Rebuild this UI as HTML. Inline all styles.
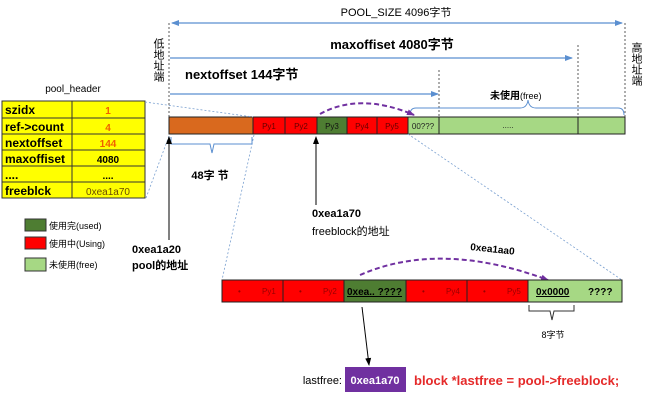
<!DOCTYPE html><html><head><meta charset="utf-8"><style>body{margin:0;background:#fff}svg{display:block}text{font-family:"Liberation Sans","Noto Sans CJK SC",sans-serif}</style></head><body>
<svg width="650" height="406" viewBox="0 0 650 406" xmlns="http://www.w3.org/2000/svg">
<defs>
<marker id="ab" markerUnits="userSpaceOnUse" markerWidth="8" markerHeight="8" refX="7" refY="4" orient="auto-start-reverse"><path d="M0,1 L8,4 L0,7z" fill="#5b8fd0"/></marker>
<marker id="ak" markerUnits="userSpaceOnUse" markerWidth="8" markerHeight="8" refX="7" refY="4" orient="auto"><path d="M0,1 L8,4 L0,7z" fill="#000"/></marker>
<marker id="ap" markerUnits="userSpaceOnUse" markerWidth="9" markerHeight="9" refX="7" refY="4" orient="auto"><path d="M0,1 L8,4 L0,7z" fill="#7030a0"/></marker>
</defs>
<line x1="172" y1="23" x2="622" y2="23" stroke="#5b8fd0" stroke-width="1.2" marker-start="url(#ab)" marker-end="url(#ab)"/>
<text x="396" y="16" font-size="11" text-anchor="middle">POOL_SIZE 4096字节</text>
<line x1="170" y1="58" x2="572" y2="58" stroke="#5b8fd0" stroke-width="1.2" marker-end="url(#ab)"/>
<text x="392" y="49" font-size="13" font-weight="bold" text-anchor="middle">maxoffiset 4080字节</text>
<line x1="170" y1="94" x2="438" y2="94" stroke="#5b8fd0" stroke-width="1.2" marker-end="url(#ab)"/>
<text x="185" y="79" font-size="13" font-weight="bold">nextoffset 144字节</text>
<g stroke="#333" stroke-width="0.8" stroke-dasharray="2,2">
<line x1="169" y1="23" x2="169" y2="117"/><line x1="439" y1="70" x2="439" y2="117"/><line x1="578" y1="45" x2="578" y2="117"/><line x1="625" y1="23" x2="625" y2="117"/></g>
<text font-size="11" writing-mode="tb" x="158" y="38">低地址端</text>
<text font-size="11" writing-mode="tb" x="636" y="42">高地址端</text>
<path d="M410,115 Q410,108 416,108 L520,108 Q527,108 528,100 Q529,108 536,108 L618,108 Q624,108 624,115" fill="none" stroke="#5b8fd0"/>
<text x="490" y="99" font-size="10" font-weight="bold">未使用<tspan font-weight="normal" font-size="9">(free)</tspan></text>
<path d="M320,114 Q360,92 414,115" fill="none" stroke="#7030a0" stroke-width="2" stroke-dasharray="5,3" marker-end="url(#ap)"/>
<g stroke="#222" stroke-width="1">
<rect x="169" y="117" width="84" height="17" fill="#d9691e"/>
<rect x="253" y="117" width="32" height="17" fill="#f00"/>
<rect x="285" y="117" width="32" height="17" fill="#f00"/>
<rect x="317" y="117" width="30" height="17" fill="#4e7d32"/>
<rect x="347" y="117" width="30" height="17" fill="#f00"/>
<rect x="377" y="117" width="31" height="17" fill="#f00"/>
<rect x="408" y="117" width="31" height="17" fill="#a6d884"/>
<rect x="439" y="117" width="139" height="17" fill="#a6d884"/>
<rect x="578" y="117" width="47" height="17" fill="#a6d884"/></g>
<g font-size="8" fill="#600" text-anchor="middle">
<text x="269" y="129" font-family="Liberation Serif">Py1</text><text x="301" y="129" font-family="Liberation Serif">Py2</text><text x="332" y="129" font-family="Liberation Serif" fill="#111">Py3</text><text x="362" y="129" font-family="Liberation Serif">Py4</text><text x="392" y="129" font-family="Liberation Serif">Py5</text><text x="423" y="129" font-family="Liberation Serif" fill="#222">00???</text><text x="508" y="128" fill="#222">.....</text></g>
<g stroke="#333" stroke-width="1" fill="#ffff00">
<rect x="2" y="101" width="70" height="17"/><rect x="72" y="101" width="73" height="17"/>
<rect x="2" y="118" width="70" height="16"/><rect x="72" y="118" width="73" height="16"/>
<rect x="2" y="134" width="70" height="16"/><rect x="72" y="134" width="73" height="16"/>
<rect x="2" y="150" width="70" height="16"/><rect x="72" y="150" width="73" height="16"/>
<rect x="2" y="166" width="70" height="16"/><rect x="72" y="166" width="73" height="16"/>
<rect x="2" y="182" width="70" height="16"/><rect x="72" y="182" width="73" height="16"/></g>
<g font-size="12" font-weight="bold">
<text x="5" y="114">szidx</text><text x="5" y="131">ref-&gt;count</text><text x="5" y="147">nextoffset</text><text x="5" y="163">maxoffiset</text><text x="5" y="179">....</text><text x="5" y="195">freeblck</text></g>
<g font-size="10" font-weight="bold" text-anchor="middle">
<text x="108" y="114" fill="#f06000">1</text><text x="108" y="131" fill="#f06000">4</text><text x="108" y="147" fill="#f06000">144</text><text x="108" y="163">4080</text><text x="108" y="179">....</text><text x="108" y="195" fill="#6a4a00" font-weight="normal">0xea1a70</text></g>
<text x="73" y="92" font-size="10" text-anchor="middle">pool_header</text>
<g stroke="#7aa0d0" stroke-width="0.8" stroke-dasharray="2,2" fill="none">
<line x1="145" y1="102" x2="253" y2="117"/><line x1="146" y1="198" x2="169" y2="136"/>
<line x1="254" y1="135" x2="222" y2="280"/><line x1="408" y1="134" x2="622" y2="280"/></g>
<path d="M171,137 L171,144 L210,144 L212,153 L214,144 L252,144 L252,137" fill="none" stroke="#5b8fd0"/>
<text x="210" y="179" font-size="11" font-weight="bold" text-anchor="middle">48字 节</text>
<line x1="169" y1="240" x2="169" y2="137" stroke="#000" marker-end="url(#ak)"/>
<line x1="316" y1="205" x2="316" y2="137" stroke="#000" marker-end="url(#ak)"/>
<text x="132" y="253" font-size="11" font-weight="bold">0xea1a20</text><text x="132" y="269" font-size="11" font-weight="bold">pool的地址</text>
<text x="312" y="217" font-size="11" font-weight="bold">0xea1a70</text><text x="312" y="235" font-size="11">freeblock的地址</text>
<rect x="25" y="219" width="21" height="12" fill="#4e7d32" stroke="#333"/><text x="49" y="229" font-size="9">使用完(used)</text>
<rect x="25" y="237" width="21" height="12" fill="#f00" stroke="#333"/><text x="49" y="247" font-size="9">使用中(Using)</text>
<rect x="25" y="258" width="21" height="13" fill="#a6d884" stroke="#333"/><text x="49" y="268" font-size="9">未使用(free)</text>
<path d="M360,275 Q440,240 548,280" fill="none" stroke="#7030a0" stroke-width="2" stroke-dasharray="5,3" marker-end="url(#ap)"/>
<text x="470" y="250" font-size="10" font-weight="bold" transform="rotate(6 470 250)">0xea1aa0</text>
<g stroke="#222" stroke-width="1">
<rect x="222" y="280" width="61" height="22" fill="#f00"/><rect x="283" y="280" width="61" height="22" fill="#f00"/>
<rect x="344" y="280" width="62" height="22" fill="#4e7d32"/><rect x="406" y="280" width="61" height="22" fill="#f00"/>
<rect x="467" y="280" width="61" height="22" fill="#f00"/><rect x="528" y="280" width="94" height="22" fill="#a6d884"/></g>
<g font-size="8" fill="#900"><text x="238" y="294">•</text><text x="262" y="294" font-family="Liberation Serif">Py1</text>
<text x="299" y="294">•</text><text x="323" y="294" font-family="Liberation Serif">Py2</text>
<text x="422" y="294">•</text><text x="446" y="294" font-family="Liberation Serif">Py4</text>
<text x="483" y="294">•</text><text x="507" y="294" font-family="Liberation Serif">Py5</text></g>
<text x="347" y="295" font-size="10" font-weight="bold" text-decoration="underline">0xea.. ????</text>
<text x="536" y="295" font-size="10" font-weight="bold" text-decoration="underline">0x0000</text><text x="588" y="295" font-size="10" font-weight="bold">????</text>
<path d="M529,305 L529,311 L550,311 L552,320 L554,311 L574,311 L574,305" fill="none" stroke="#333"/>
<text x="553" y="338" font-size="9" text-anchor="middle">8字节</text>
<line x1="362" y1="307" x2="369" y2="365" stroke="#000" marker-end="url(#ak)"/>
<rect x="345" y="367" width="61" height="25" fill="#7030a0"/>
<text x="375" y="384" font-size="11" font-weight="bold" fill="#fff" text-anchor="middle">0xea1a70</text>
<text x="342" y="384" font-size="11" text-anchor="end">lastfree:</text>
<text x="414" y="385" font-size="13" font-weight="bold" fill="#e52a2a">block *lastfree = pool-&gt;freeblock;</text>
</svg></body></html>
